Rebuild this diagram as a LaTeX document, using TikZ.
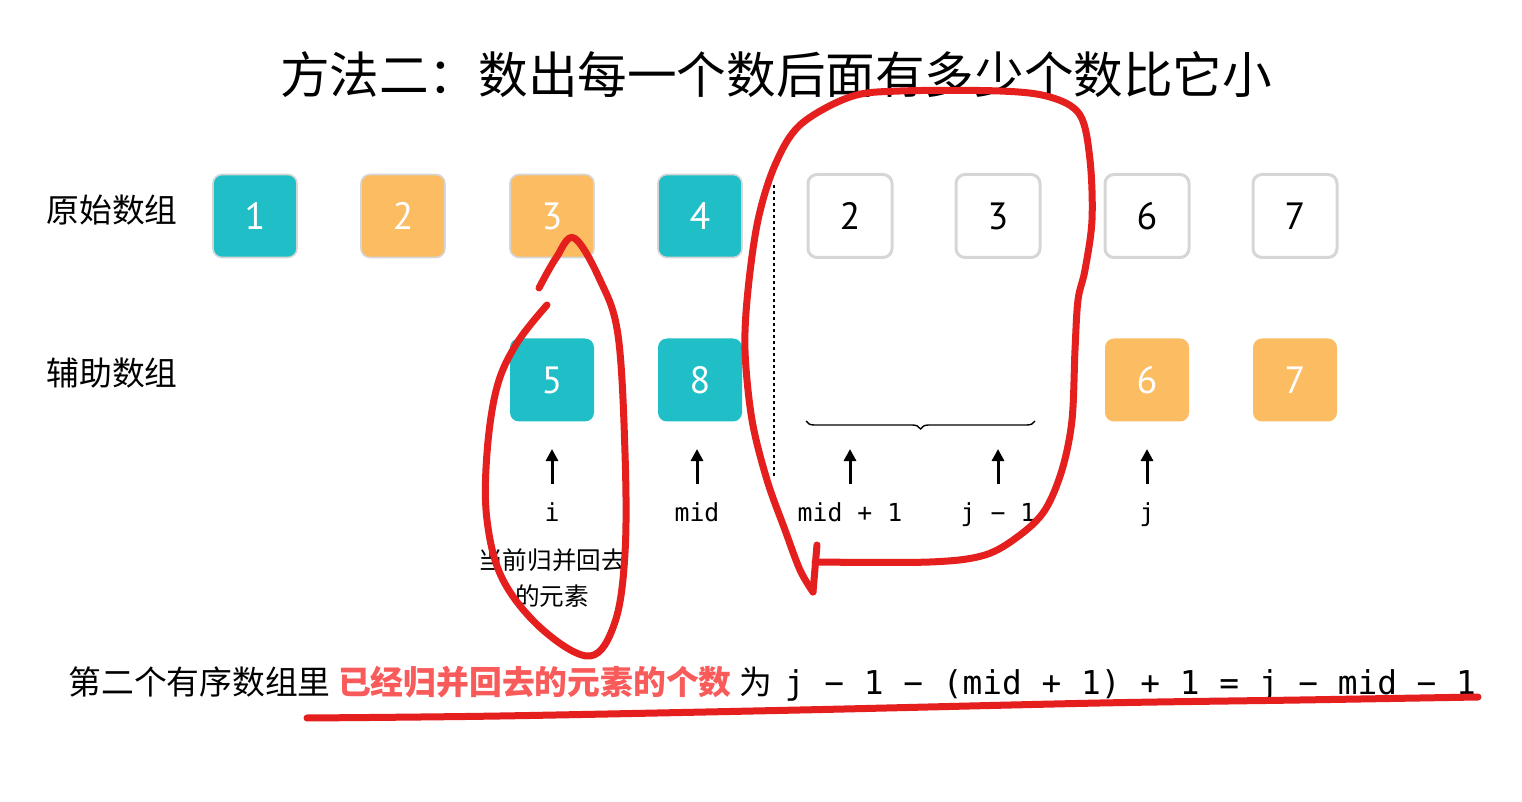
\documentclass[tikz,border=0pt]{standalone}
\usepackage{fontspec}
\setmainfont{Noto Sans CJK SC}
\newfontfamily\cjkf{Noto Sans CJK SC}
\newfontfamily\digitf{PT Sans}
\newfontfamily\monof{DejaVu Sans Mono}
\usetikzlibrary{arrows.meta,decorations.pathreplacing}
\definecolor{tealc}{HTML}{20BEC6}
\definecolor{orgc}{HTML}{FBBC62}
\definecolor{grayc}{HTML}{D6D6D6}
\definecolor{redm}{HTML}{E41F1E}
\definecolor{redt}{HTML}{F95A5A}
\begin{document}
\begin{tikzpicture}[x=0.5pt,y=-0.5pt,
  cell/.style={rounded corners=4.5pt, minimum width=42pt, minimum height=41.5pt, inner sep=0pt,
    font=\digitf\fontsize{19}{19}\selectfont},
  tealtop/.style={cell, fill=tealc, draw=grayc, line width=0.8pt, text=white},
  orgtop/.style={cell, fill=orgc, draw=grayc, line width=0.8pt, text=white},
  tealcell/.style={cell, fill=tealc, text=white},
  orgcell/.style={cell, fill=orgc, text=white},
  emptycell/.style={cell, fill=white, draw=grayc, line width=1.5pt, text=black},
  rowlab/.style={font=\cjkf\fontsize{16.4}{18}\selectfont, anchor=base, inner sep=0pt},
  ptrlab/.style={font=\monof\fontsize{12.4}{14}\selectfont, anchor=base, inner sep=0pt},
  ptr/.style={-{Triangle[length=6pt,width=6pt]}, line width=1.5pt},
  marker/.style={draw=redm, line width=3.5pt, line cap=round, line join=round}]
\fill[white] (0,0) rectangle (1522,802);
\useasboundingbox (0,0) rectangle (1522,802);

% title
\node[font=\cjkf\fontsize{24.8}{28}\selectfont, anchor=base, inner sep=0pt] (title) at (776,94) {方法二：数出每一个数后面有多少个数比它小};

% row labels
\node[rowlab] (lab1) at (112,223) {原始数组};
\node[rowlab] (lab2) at (112,386) {辅助数组};

% original array
\node[tealtop] (o1) at (255,216) {1};
\node[orgtop] (o2) at (403,216) {2};
\node[orgtop] (o3) at (552,216) {3};
\node[tealtop] (o4) at (700,216) {4};
\node[emptycell] (o5) at (850,216) {2};
\node[emptycell] (o6) at (998,216) {3};
\node[emptycell] (o7) at (1147,216) {6};
\node[emptycell] (o8) at (1295,216) {7};

% auxiliary array
\node[tealcell] (a3) at (552,380) {5};
\node[tealcell] (a4) at (700,380) {8};
\node[orgcell] (a7) at (1147,380) {6};
\node[orgcell] (a8) at (1295,380) {7};

% dotted separator
\coordinate (sepT) at (774,185);
\coordinate (sepB) at (774,478);
\draw[line width=1pt, dash pattern=on 1.5pt off 1.5pt] (sepT) -- (sepB);

% brace
\coordinate (brL) at (806,421);
\coordinate (brR) at (1035,421);
\draw[line width=0.7pt, decorate, decoration={brace, amplitude=4pt, mirror}] (brL) -- (brR);

% pointer labels
\node[ptrlab] (pi) at (552,521) {i};
\node[ptrlab] (pmid) at (697,521) {mid};
\node[ptrlab] (pmid1) at (850,521) {mid + 1};
\node[ptrlab] (pj1) at (998,521) {j − 1};
\node[ptrlab] (pj) at (1147,521) {j};

% pointer arrows
\foreach \n/\x in {i/552, mid/697, mid1/850, j1/998, j/1147}{
  \coordinate (s\n) at (\x,484);
  \coordinate (e\n) at (\x,449);
  \draw[ptr] (s\n) -- (e\n);
}

% note under i
\node[font=\cjkf\fontsize{12.3}{14}\selectfont, align=center, inner sep=0pt] (note) at (552,578)
  {当前归并回去\\[4pt]的元素};

% bottom sentence
\node[anchor=base west, inner sep=0pt] (sent) at (68,694)
  {\cjkf\fontsize{16.4}{18}\selectfont 第二个有序数组里 {\bfseries\color{redt}已经归并回去的元素的个数} 为\hspace{6.5pt}{\monof\fontsize{16.4}{18}\selectfont j − 1 − (mid + 1) + 1 = j − mid − 1}};

% hand-drawn red marks
\draw[marker] plot[smooth, tension=0.6] coordinates {(547,305) (517,343) (497,387) (487,453) (487,520) (503,580) (543,630) (590,656) (615,622) (625,553) (625,453) (618,335) (600,280) (574,238) (556,258) (539,288)};

\draw[marker] plot[smooth, tension=0.55] coordinates {(813,592) (800,570) (785,530) (767,480) (752,420) (745,350) (748,290) (758,220) (775,165) (800,125) (850,97) (900,91) (1000,91) (1050,97) (1080,115) (1090,160) (1092,220) (1085,270) (1078,300) (1075,350) (1072,420) (1062,470) (1045,510) (1020,535) (985,555) (930,562) (815,562)};
\draw[marker] (817,545) -- (813,592);

\draw[marker] plot[smooth, tension=0.5] coordinates {(307,718) (500,716) (800,710) (1100,703) (1300,700) (1478,697)};
\end{tikzpicture}
\end{document}
